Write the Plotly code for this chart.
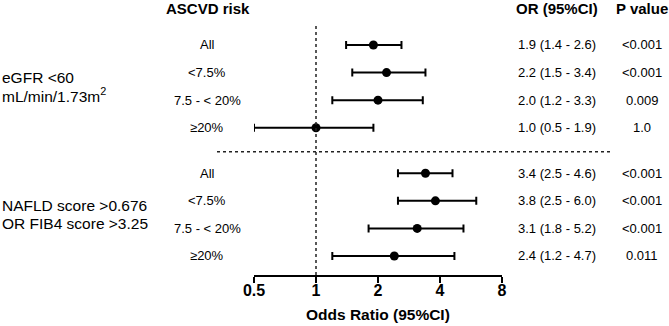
import plotly.graph_objects as go

# ---- data ----
group_lines = [["eGFR <60", "mL/min/1.73m<sup>2</sup>"], ["NAFLD score >0.676", "OR FIB4 score >3.25"]]
subgroups = ["All", "<7.5%", "7.5 - < 20%", "≥20%", "All", "<7.5%", "7.5 - < 20%", "≥20%"]
odds_ratio = [1.9, 2.2, 2.0, 1.0, 3.4, 3.8, 3.1, 2.4]
ci_low = [1.4, 1.5, 1.2, 0.5, 2.5, 2.5, 1.8, 1.2]
ci_high = [2.6, 3.4, 3.3, 1.9, 4.6, 6.0, 5.2, 4.7]
or_text = ["1.9 (1.4 - 2.6)", "2.2 (1.5 - 3.4)", "2.0 (1.2 - 3.3)", "1.0 (0.5 - 1.9)",
           "3.4 (2.5 - 4.6)", "3.8 (2.5 - 6.0)", "3.1 (1.8 - 5.2)", "2.4 (1.2 - 4.7)"]
p_values = ["<0.001", "<0.001", "0.009", "1.0", "<0.001", "<0.001", "<0.001", "0.011"]
tick_vals = [0.5, 1, 2, 4, 8]
tick_labels = ["0.5", "1", "2", "4", "8"]

# ---- layout helpers ----
W, H = 669, 326
L, R = 254, 502          # plot area in px
T, B = 25, 275
GAP = 1.65
rows = [i if i < 4 else i + GAP - 1 for i in range(8)]
y_range = [rows[-1] + 0.69, -0.725]
PX_PER_ROW = (B - T) / (y_range[0] - y_range[1])


def px(x):
    return (x - L) / (R - L)


def py(y):
    return (B - y) / (B - T)


font = "Liberation Sans, Arial, sans-serif"
black = "#000000"

fig = go.Figure()
fig.add_trace(go.Scatter(
    x=odds_ratio, y=rows, mode="markers",
    marker=dict(color=black, size=9),
    error_x=dict(type="data", symmetric=False,
                 array=[h - o for h, o in zip(ci_high, odds_ratio)],
                 arrayminus=[o - l for o, l in zip(odds_ratio, ci_low)],
                 color=black, thickness=2, width=4),
    showlegend=False, hoverinfo="skip",
))

annotations = []
for text, xc in [("<b>ASCVD risk</b>", 208), ("<b>OR (95%CI)</b>", 557), ("<b>P value</b>", 642)]:
    annotations.append(dict(text=text, x=px(xc), y=py(9), xref="paper", yref="paper",
                            xanchor="center", yanchor="middle", showarrow=False,
                            font=dict(family=font, size=15, color=black)))

for i, r in enumerate(rows):
    annotations.append(dict(text=subgroups[i], x=px(207), y=r, xref="paper", yref="y",
                            xanchor="center", yanchor="middle", showarrow=False,
                            font=dict(family=font, size=13, color=black)))
    annotations.append(dict(text=or_text[i], x=px(557), y=r, xref="paper", yref="y",
                            xanchor="center", yanchor="middle", showarrow=False,
                            font=dict(family=font, size=13, color=black)))
    annotations.append(dict(text=p_values[i], x=px(642), y=r, xref="paper", yref="y",
                            xanchor="center", yanchor="middle", showarrow=False,
                            font=dict(family=font, size=13, color=black)))

line_gap = 18 / PX_PER_ROW
for g, lines in enumerate(group_lines):
    yc = sum(rows[g * 4:(g + 1) * 4]) / 4
    for k, t in enumerate(lines):
        annotations.append(dict(text=t, x=px(0), y=yc + (k - 0.5) * line_gap, xref="paper", yref="y",
                                xanchor="left", yanchor="middle", align="left", showarrow=False,
                                font=dict(family=font, size=15.5, color=black)))

annotations.append(dict(text="<b>Odds Ratio (95%CI)</b>", x=0.5, y=py(314), xref="paper", yref="paper",
                        xanchor="center", yanchor="middle", showarrow=False,
                        font=dict(family=font, size=15.5, color=black)))

sep_y = (rows[3] + rows[4]) / 2 + 0.05
shapes = [
    dict(type="line", xref="x", yref="paper", x0=1, x1=1, y0=0, y1=1,
         line=dict(color="#222222", width=1.5, dash="dot")),
    dict(type="line", xref="paper", yref="y", x0=px(217), x1=px(610), y0=sep_y, y1=sep_y,
         line=dict(color="#222222", width=1.5, dash="dot")),
]

fig.update_layout(
    width=W, height=H,
    margin=dict(l=L, r=W - R, t=T, b=H - B, pad=0),
    paper_bgcolor="white", plot_bgcolor="white",
    xaxis=dict(type="log", range=[-0.30103, 0.90309], tickvals=tick_vals, ticktext=tick_labels,
               showgrid=False, zeroline=False, showline=True, linecolor=black, linewidth=2,
               ticks="outside", ticklen=6, tickwidth=2, tickcolor=black, ticklabelstandoff=-6,
               tickfont=dict(family=font, size=16, color=black, weight="bold")),
    yaxis=dict(range=y_range, visible=False, showgrid=False, zeroline=False),
    annotations=annotations,
    shapes=shapes,
    font=dict(family=font, color=black),
)

fig.write_html("out.html", config={"displayModeBar": False},
               post_script="document.body.style.margin='0';")
